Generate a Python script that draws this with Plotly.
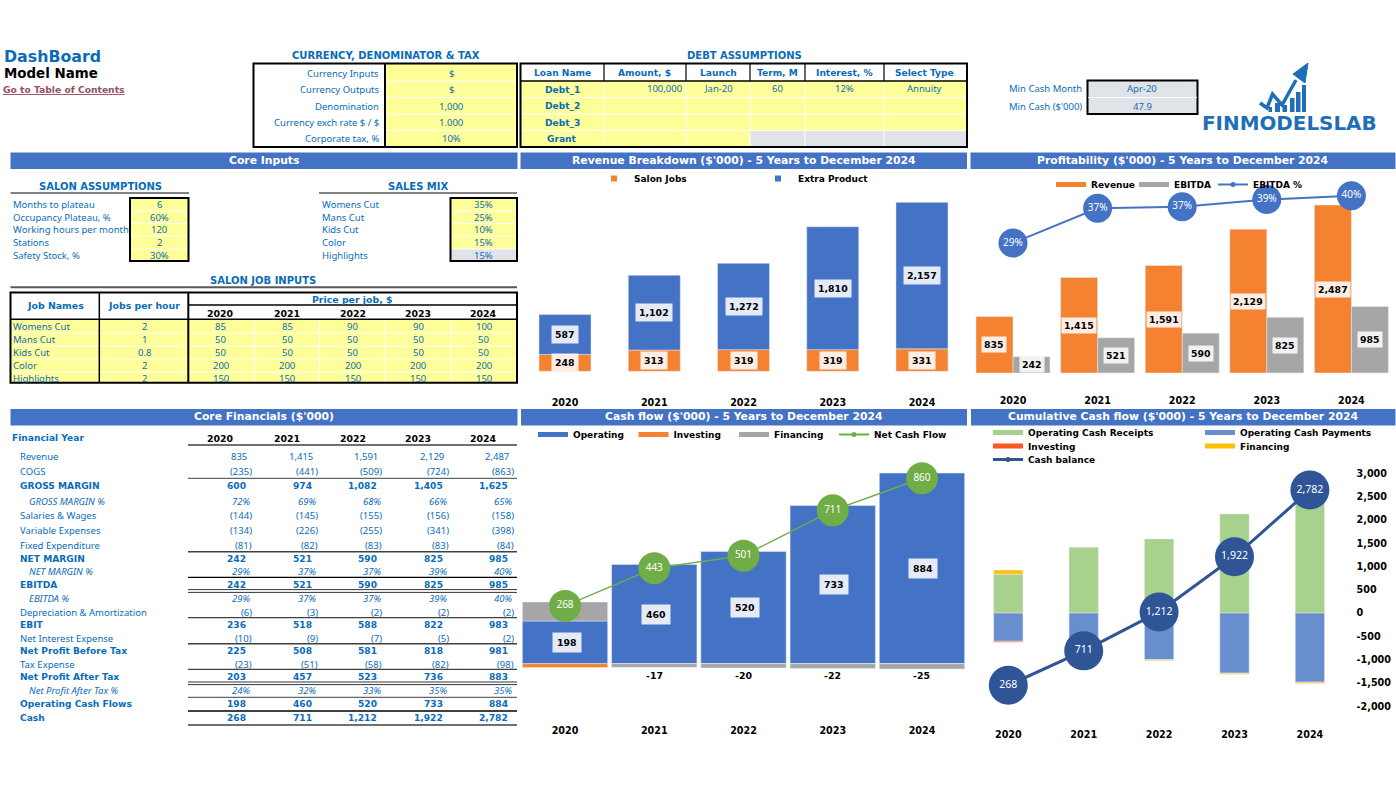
import numpy as np
import plotly.graph_objects as go

# ---------- data ----------
years = ["2020", "2021", "2022", "2023", "2024"]
salon_jobs = [248, 313, 319, 319, 331]
extra_product = [587, 1102, 1272, 1810, 2157]
revenue = [835, 1415, 1591, 2129, 2487]
ebitda = [242, 521, 590, 825, 985]
ebitda_pct = [0.29, 0.368, 0.371, 0.3875, 0.396]
operating = [198, 460, 520, 733, 884]
investing = [-18, 0, 0, 0, 0]
financing = [88, -17, -20, -22, -25]
net_cash = [268, 443, 501, 711, 860]
receipts = [835, 1415, 1591, 2129, 2487]
payments = [-605, -880, -1000, -1292, -1485]
cash_balance = [268, 711, 1212, 1922, 2782]
cum_ticks = [3000, 2500, 2000, 1500, 1000, 500, 0, -500, -1000, -1500, -2000]
cum_tick_text = ["3,000", "2,500", "2,000", "1,500", "1,000", "500", "0", "-500", "-1,000", "-1,500", "-2,000"]

currency_labels = ["Currency Inputs", "Currency Outputs", "Denomination", "Currency exch rate $ / $", "Corporate tax, %"]
currency_values = ["$", "$", "1,000", "1.000", "10%"]
debt_headers = ["Loan Name", "Amount, $", "Launch", "Term, M", "Interest, %", "Select Type"]
debt_rows = ["Debt_1", "Debt_2", "Debt_3", "Grant"]
debt_1_values = ["100,000", "Jan-20", "60", "12%", "Annuity"]
min_cash_labels = ["Min Cash Month", "Min Cash ($'000)"]
min_cash_values = ["Apr-20", "47.9"]
salon_labels = ["Months to plateau", "Occupancy Plateau, %", "Working hours per month", "Stations", "Safety Stock, %"]
salon_values = ["6", "60%", "120", "2", "30%"]
mix_labels = ["Womens Cut", "Mans Cut", "Kids Cut", "Color", "Highlights"]
mix_values = ["35%", "25%", "10%", "15%", "15%"]
job_names = ["Womens Cut", "Mans Cut", "Kids Cut", "Color", "Highlights"]
jobs_per_hour = ["2", "1", "0.8", "2", "2"]
job_prices = [["85", "85", "90", "90", "100"], ["50"] * 5, ["50"] * 5, ["200"] * 5, ["150"] * 5]

# label, kind (n normal, b bold, i italic), values
fin_rows = [
    ("Revenue", "n", ["835", "1,415", "1,591", "2,129", "2,487"]),
    ("COGS", "n", ["(235)", "(441)", "(509)", "(724)", "(863)"]),
    ("GROSS MARGIN", "b", ["600", "974", "1,082", "1,405", "1,625"]),
    ("GROSS MARGIN %", "i", ["72%", "69%", "68%", "66%", "65%"]),
    ("Salaries & Wages", "n", ["(144)", "(145)", "(155)", "(156)", "(158)"]),
    ("Variable Expenses", "n", ["(134)", "(226)", "(255)", "(341)", "(398)"]),
    ("Fixed Expenditure", "n", ["(81)", "(82)", "(83)", "(83)", "(84)"]),
    ("NET MARGIN", "b", ["242", "521", "590", "825", "985"]),
    ("NET MARGIN %", "i", ["29%", "37%", "37%", "39%", "40%"]),
    ("EBITDA", "b", ["242", "521", "590", "825", "985"]),
    ("EBITDA %", "i", ["29%", "37%", "37%", "39%", "40%"]),
    ("Depreciation & Amortization", "n", ["(6)", "(3)", "(2)", "(2)", "(2)"]),
    ("EBIT", "b", ["236", "518", "588", "822", "983"]),
    ("Net Interest Expense", "n", ["(10)", "(9)", "(7)", "(5)", "(2)"]),
    ("Net Profit Before Tax", "b", ["225", "508", "581", "818", "981"]),
    ("Tax Expense", "n", ["(23)", "(51)", "(58)", "(82)", "(98)"]),
    ("Net Profit After Tax", "b", ["203", "457", "523", "736", "883"]),
    ("Net Profit After Tax %", "i", ["24%", "32%", "33%", "35%", "35%"]),
    ("Operating Cash Flows", "b", ["198", "460", "520", "733", "884"]),
    ("Cash", "b", ["268", "711", "1,212", "1,922", "2,782"]),
]

# ---------- style ----------
W, H = 1396, 786
FONT = "DejaVu Sans"
FONT_N = "Noto Sans"
BLUE = "#0A6CB8"
HEAD = "#4472C4"
YEL = "#FFFF99"
GRAY = "#E0E3E7"
ORANGE = "#F58231"
BAR_BLUE = "#4472C4"
BAR_GRAY = "#A6A6A6"
GREEN = "#70AD47"
SZ_B = 9.1
SZ_N = 9.5


def px(x):
    return x / W


def py(y):
    return 1 - y / H


def yrange(zero_px, scale, bottom, top):
    return [-(bottom - zero_px) / scale, (zero_px - top) / scale]


annos, shapes = [], []


def txt(x, y, s, size=None, color=BLUE, bold=False, italic=False, anchor="center"):
    annos.append(dict(
        xref="paper", yref="paper", x=px(x - 1 if anchor == "left" else x), y=py(y), text=s, showarrow=False,
        xanchor=anchor, yanchor="middle", borderpad=0,
        font=dict(family=FONT if bold else FONT_N, size=size or (SZ_B if bold else SZ_N), color=color,
                  weight="bold" if bold else "normal", style="italic" if italic else "normal")))


def rect(x0, y0, x1, y1, fill=None, line=None, lw=0):
    shapes.append(dict(type="rect", xref="paper", yref="paper", x0=px(x0), x1=px(x1), y0=py(y0), y1=py(y1),
                       fillcolor=fill if fill else "rgba(0,0,0,0)", layer="below",
                       line=dict(color=line if line else "rgba(0,0,0,0)", width=lw)))


def seg(x0, y0, x1, y1, color="#000000", lw=1):
    shapes.append(dict(type="line", xref="paper", yref="paper", x0=px(x0), x1=px(x1), y0=py(y0), y1=py(y1),
                       layer="below", line=dict(color=color, width=lw)))


def header(x0, x1, y0, y1, s):
    rect(x0, y0, x1, y1, fill=HEAD)
    txt((x0 + x1) / 2, (y0 + y1) / 2 - 0.7, s, size=10.8, color="white", bold=True)


def label(axis, x, y, s, xshift=0, pad=3):
    annos.append(dict(
        xref="x" + axis, yref="y" + axis, x=x, y=y, text=s, showarrow=False, xshift=xshift,
        bgcolor="rgba(255,255,255,0.86)", borderpad=pad,
        font=dict(family=FONT, size=9.4, color="black", weight="bold")))


fig = go.Figure()


def legend_key(name, color, legend, xaxis, yaxis, kind="line", width=5):
    if kind == "line":
        mode, marker = "lines", None
    elif kind == "linemark":
        mode, marker = "lines+markers", dict(size=5, color=color)
    else:
        mode, marker = "markers", dict(size=6, color=color, symbol="square")
    fig.add_trace(go.Scatter(x=years, y=[None] * 5, name=name, mode=mode, marker=marker,
                             line=dict(color=color, width=width), legend=legend,
                             xaxis=xaxis, yaxis=yaxis, showlegend=True, hoverinfo="skip"))


# ---------- chart 1: revenue breakdown ----------
fig.add_trace(go.Bar(x=years, y=salon_jobs, width=0.583, marker_color=ORANGE, xaxis="x", yaxis="y",
                     showlegend=False, name="Salon Jobs"))
fig.add_trace(go.Bar(x=years, y=extra_product, base=salon_jobs, width=0.583, marker_color=BAR_BLUE, xaxis="x",
                     yaxis="y", showlegend=False, name="Extra Product"))
legend_key("Salon Jobs", ORANGE, "legend", "x", "y", kind="square")
legend_key("Extra Product", BAR_BLUE, "legend", "x", "y", kind="square")
for i in range(5):
    label("", i, salon_jobs[i] / 2, f"{salon_jobs[i]:,}")
    label("", i, salon_jobs[i] + extra_product[i] / 2, f"{extra_product[i]:,}")

# ---------- chart 2: profitability ----------
BW2 = 0.4375
fig.add_trace(go.Bar(x=years, y=revenue, width=BW2, offset=-BW2, marker_color=ORANGE, xaxis="x2", yaxis="y2",
                     showlegend=False, name="Revenue"))
fig.add_trace(go.Bar(x=years, y=ebitda, width=BW2, offset=0, marker_color=BAR_GRAY, xaxis="x2", yaxis="y2",
                     showlegend=False, name="EBITDA"))
fig.add_trace(go.Scatter(x=years, y=ebitda_pct, mode="lines+markers+text", xaxis="x2", yaxis="y5",
                         text=[f"{v:.0%}" for v in ebitda_pct], textposition="middle center",
                         textfont=dict(family=FONT_N, size=10, color="white"),
                         marker=dict(size=29, color=BAR_BLUE), line=dict(color=BAR_BLUE, width=2),
                         showlegend=False, name="EBITDA %", cliponaxis=False))
legend_key("Revenue", ORANGE, "legend2", "x2", "y2")
legend_key("EBITDA", BAR_GRAY, "legend2", "x2", "y2")
legend_key("EBITDA %", BAR_BLUE, "legend6", "x2", "y2", kind="linemark", width=2)
for i in range(5):
    label("2", i - BW2 / 2, revenue[i] / 2, f"{revenue[i]:,}", pad=2)
    label("2", i + BW2 / 2, ebitda[i] / 2, f"{ebitda[i]:,}", pad=2)

# ---------- chart 3: cash flow ----------
BW3 = 0.956
op, inv, fin = map(np.array, (operating, investing, financing))
fin_base = np.where(fin > 0, op, inv)
fin_text = [f"{v}" if v > 0 else "" for v in financing]
fig.add_trace(go.Bar(x=years, y=operating, width=BW3, marker_color=BAR_BLUE, xaxis="x3", yaxis="y3",
                     showlegend=False, name="Operating"))
fig.add_trace(go.Bar(x=years, y=investing, width=BW3, marker_color=ORANGE, xaxis="x3", yaxis="y3",
                     showlegend=False, name="Investing"))
fig.add_trace(go.Bar(x=years, y=financing, base=fin_base.tolist(), width=BW3, marker_color=BAR_GRAY, xaxis="x3",
                     yaxis="y3", showlegend=False, name="Financing", text=fin_text, textposition="inside",
                     insidetextanchor="middle", textangle=0, constraintext="none",
                     textfont=dict(family=FONT, size=9.4, color="black", weight="bold")))
fig.add_trace(go.Scatter(x=years, y=net_cash, mode="lines+markers+text", xaxis="x3", yaxis="y3",
                         text=[str(v) for v in net_cash], textposition="middle center",
                         textfont=dict(family=FONT_N, size=10, color="white"),
                         marker=dict(size=32, color=GREEN), line=dict(color=GREEN, width=1.5),
                         showlegend=False, name="Net Cash Flow", cliponaxis=False))
legend_key("Operating", BAR_BLUE, "legend3", "x3", "y3")
legend_key("Investing", ORANGE, "legend3", "x3", "y3")
legend_key("Financing", BAR_GRAY, "legend3", "x3", "y3")
legend_key("Net Cash Flow", GREEN, "legend7", "x3", "y3", kind="linemark", width=2)
for i in range(5):
    label("3", i, operating[i] / 2, f"{operating[i]:,}", xshift=1.5, pad=4)
    if financing[i] < 0:
        annos.append(dict(xref="x3", yref="y3", x=i, y=-55, text=str(financing[i]), showarrow=False,
                          font=dict(family=FONT, size=9.4, color="black", weight="bold")))

# ---------- chart 4: cumulative cash flow ----------
BW4 = 0.389
rec, pay = np.array(receipts), np.array(payments)
fin4_base = np.where(fin > 0, rec, pay + inv)
fig.add_trace(go.Bar(x=years, y=receipts, width=BW4, marker_color="#A9D18E", xaxis="x4", yaxis="y4",
                     showlegend=False, name="Operating Cash Receipts"))
fig.add_trace(go.Bar(x=years, y=payments, width=BW4, marker_color="#698ED0", xaxis="x4", yaxis="y4",
                     showlegend=False, name="Operating Cash Payments"))
fig.add_trace(go.Bar(x=years, y=investing, base=payments, width=BW4, marker_color="#FF5522", xaxis="x4", yaxis="y4",
                     showlegend=False, name="Investing"))
fig.add_trace(go.Bar(x=years, y=financing, base=fin4_base.tolist(), width=BW4, marker_color="#FFC000", xaxis="x4",
                     yaxis="y4", showlegend=False, name="Financing"))
fig.add_trace(go.Scatter(x=years, y=cash_balance, mode="lines+markers+text", xaxis="x4", yaxis="y6",
                         text=[f"{v:,}" for v in cash_balance], textposition="middle center",
                         textfont=dict(family=FONT_N, size=10.5, color="white"),
                         marker=dict(size=39, color="#2F5597"), line=dict(color="#2F5597", width=3),
                         showlegend=False, name="Cash balance", cliponaxis=False))
legend_key("Operating Cash Receipts", "#A9D18E", "legend4", "x4", "y4")
legend_key("Investing", "#FF5522", "legend8", "x4", "y4")
legend_key("Cash balance", "#2F5597", "legend9", "x4", "y4", kind="linemark", width=3)
legend_key("Operating Cash Payments", "#698ED0", "legend5", "x4", "y4")
legend_key("Financing", "#FFC000", "legend10", "x4", "y4")

# ---------- top-left titles ----------
txt(4, 56.7, "DashBoard", size=15.8, bold=True, anchor="left")
txt(4, 73, "Model Name", size=13.4, color="black", bold=True, anchor="left")
txt(3, 90, "<u>Go to Table of Contents</u>", size=9.2, color="#94505C", bold=True, anchor="left")

# ---------- currency table ----------
txt(386, 56, "CURRENCY, DENOMINATOR & TAX", size=10, bold=True)
rect(385, 63.5, 516, 147, fill=YEL)
cur_y = [73, 89.7, 106, 122.5, 139]
for yy in [81, 97.5, 114, 130.5]:
    seg(385, yy, 516, yy, "white", 1)
rect(253.5, 63.5, 517, 147, line="black", lw=2)
seg(385, 63.5, 385, 147, "black", 2)
for yy, l, v in zip(cur_y, currency_labels, currency_values):
    txt(380, yy, l, anchor="right")
    txt(451, yy, v)

# ---------- debt table ----------
txt(744.5, 56, "DEBT ASSUMPTIONS", size=10, bold=True)
rect(521, 81, 966, 147, fill=YEL)
rect(750, 131, 966, 147, fill=GRAY)
debt_x = [521, 604, 686, 750, 805, 884, 967]
debt_cx = [562, 644, 718, 777, 844, 925]
for xx in debt_x[1:-1]:
    seg(xx, 63.5, xx, 81, "black", 1.2)
    seg(xx, 81, xx, 147, "white", 1)
for yy in [97.5, 114, 130.5]:
    seg(521, yy, 966, yy, "white", 1)
seg(521, 81, 967, 81, "black", 1.5)
rect(520.5, 63.5, 967, 147, line="black", lw=2)
for c, h in zip(debt_cx, debt_headers):
    txt(c, 72.5, h, bold=True)
for yy, r in zip(cur_y[1:], debt_rows):
    txt(562, yy, r, bold=True)
txt(683, 89, debt_1_values[0], anchor="right")
for c, v in zip(debt_cx[2:], debt_1_values[1:]):
    txt(c, 89, v)

# ---------- min cash ----------
rect(1087.5, 80.5, 1197.5, 114, fill=GRAY, line="black", lw=2)
seg(1088, 97.5, 1197, 97.5, "white", 1)
for yy, l, v in zip([89, 106], min_cash_labels, min_cash_values):
    txt(1083, yy, l, anchor="right")
    txt(1142, yy, v)

# ---------- logo ----------
LOGO = "#1F6FB8"
for x0, x1, top in [(1268.5, 1272, 107), (1275, 1280, 103), (1282.5, 1287, 105), (1290, 1294.5, 98),
                    (1296, 1300.5, 92), (1302, 1306, 85)]:
    rect(x0, top, x1, 112, fill=LOGO)
shapes.append(dict(type="path", xref="paper", yref="paper", layer="below",
                   path="M {} {} L {} {} L {} {} L {} {} L {} {}".format(
                       px(1260), py(103), px(1267), py(108), px(1272.5), py(94), px(1282), py(105), px(1296), py(80)),
                   line=dict(color=LOGO, width=3.5)))
shapes.append(dict(type="path", xref="paper", yref="paper", layer="below", fillcolor=LOGO,
                   path="M {} {} L {} {} L {} {} Z".format(px(1308), py(63), px(1293), py(74), px(1305), py(83)),
                   line=dict(color=LOGO, width=1)))
txt(1289, 123.5, "FINMODELSLAB", size=19.9, color=LOGO, bold=True)

# ---------- section headers ----------
header(10.5, 517.5, 152.5, 169, "Core Inputs")
header(520.5, 967, 152.5, 169, "Revenue Breakdown ($'000) - 5 Years to December 2024")
header(970.5, 1395.5, 152.5, 169, "Profitability ($'000) - 5 Years to December 2024")
header(10.5, 517.5, 409, 425.5, "Core Financials ($'000)")
header(521, 967, 409, 425.5, "Cash flow ($'000) - 5 Years to December 2024")
header(971, 1395.5, 409, 425.5, "Cumulative Cash flow ($'000) - 5 Years to December 2024")

# ---------- salon assumptions / sales mix ----------
ass_y = [205, 217, 229.7, 242.3, 255.3]
txt(100, 186.7, "SALON ASSUMPTIONS", size=10, bold=True)
seg(10.5, 193, 189, 193, "#595959", 1.5)
rect(130, 198, 188.5, 261, fill=YEL)
txt(418.3, 186.7, "SALES MIX", size=10, bold=True)
seg(319, 193, 517, 193, "#595959", 1.5)
rect(450.5, 198, 517, 261, fill=YEL)
rect(450.5, 249, 517, 261, fill=GRAY)
for yy in [211, 223.5, 236, 249]:
    seg(130, yy, 188.5, yy, "white", 1)
    seg(450.5, yy, 517, yy, "white", 1)
rect(130, 198, 188.5, 261, line="black", lw=2)
rect(450.5, 198, 517, 261, line="black", lw=2)
for yy, a, b, c, d in zip(ass_y, salon_labels, salon_values, mix_labels, mix_values):
    txt(13, yy, a, anchor="left")
    txt(159.3, yy, b)
    txt(322, yy, c, anchor="left")
    txt(484, yy, d)

# ---------- salon job inputs ----------
col_x = [221, 287, 352.7, 418, 484]
txt(263.3, 280.7, "SALON JOB INPUTS", size=10, bold=True)
seg(10.5, 287.3, 517, 287.3, "#595959", 2)
rect(11, 319.3, 517, 382.5, fill=YEL)
job_y = [326.7, 339.5, 352.7, 365.7, 378]
for yy in [333, 346, 359, 372]:
    seg(11, yy, 517, yy, "white", 1)
for xx in [254, 319.5, 385, 451]:
    seg(xx, 319.3, xx, 382.5, "white", 1)
rect(10.5, 292.5, 517, 382.7, line="black", lw=2)
seg(99.3, 292.5, 99.3, 382.7, "black", 1.5)
seg(188.3, 292.5, 188.3, 382.7, "black", 2)
seg(188.3, 305, 517, 305, "black", 1.5)
seg(10.5, 319.3, 517, 319.3, "black", 1.5)
txt(55, 305.7, "Job Names", bold=True, size=9.4)
txt(144, 305.7, "Jobs per hour", bold=True, size=9.4)
txt(352.7, 299.3, "Price per job, $", bold=True, size=9.4)
for c, yr in zip(col_x, years):
    txt(c, 313, yr, color="black", bold=True, size=9.4)
for yy, n, j, prices in zip(job_y, job_names, jobs_per_hour, job_prices):
    txt(13, yy, n, anchor="left")
    txt(144, yy, j)
    for c, v in zip(col_x, prices):
        txt(c, yy, v)

# ---------- core financials ----------
txt(11.7, 438.3, "Financial Year", bold=True, anchor="left")
for c, yr in zip(col_x, years):
    txt(c, 438.3, yr, color="black", bold=True, size=9.4)
fin_y = [456.7, 471.7, 486, 501, 515.7, 530.3, 545, 558.7, 571.7, 584.7, 598.3, 612.3, 625, 638, 651, 664, 676.7,
         690.3, 704, 718]
right_edges = [248, 314, 379, 445, 510]
for yy, (name, kind, vals) in zip(fin_y, fin_rows):
    txt(29 if kind == "i" else 20, yy, name, bold=kind == "b", italic=kind == "i", anchor="left")
    for r, v in zip(right_edges, vals):
        if kind == "b":
            offs = -1
        elif v.startswith("("):
            offs = 4.5
        elif kind == "i":
            offs = 2.5
        else:
            offs = 0
        txt(r + offs, yy, v, bold=kind == "b", italic=kind == "i", anchor="right")
for yy, c, lw in [(445, "#404040", 1.5), (478.3, "#404040", 1), (551.7, "#404040", 1.5), (577.3, "#000000", 1.2),
                  (589.6, "#000000", 0.8), (592.4, "#000000", 0.8), (617.7, "#404040", 1.2), (643.7, "#404040", 1.5),
                  (669.3, "#404040", 1.2), (682, "#000000", 0.8), (684.6, "#000000", 0.8), (697.3, "#404040", 1),
                  (711, "#404040", 2), (725, "#404040", 1.5)]:
    seg(188, yy, 517, yy, c, lw)

# ---------- layout ----------
hidden_y = dict(visible=False, showgrid=False, zeroline=False, fixedrange=True)
xbase = dict(type="category", categoryorder="array", categoryarray=years, range=[-0.5, 4.5], showgrid=False,
             zeroline=False, showline=False, ticks="", tickangle=0,
             tickfont=dict(family=FONT, size=9.6, color="black", weight="bold"))


def legend_at(x, y, entrywidth=None):
    d = dict(x=px(x), y=py(y), xanchor="left", yanchor="middle", orientation="h",
             bgcolor="rgba(0,0,0,0)", font=dict(family=FONT, size=9, color="black", weight="bold"),
             itemclick=False, itemdoubleclick=False, itemwidth=30, tracegroupgap=0)
    if entrywidth:
        d.update(entrywidth=entrywidth, entrywidthmode="pixels")
    return d


fig.update_layout(
    width=W, height=H, autosize=False, margin=dict(l=0, r=0, t=0, b=0, pad=0), showlegend=True,
    paper_bgcolor="white", plot_bgcolor="rgba(0,0,0,0)", barmode="overlay",
    font=dict(family=FONT, size=10, color="black"),
    xaxis=dict(xbase, domain=[px(520.4), px(966.6)], anchor="y"),
    yaxis=dict(hidden_y, domain=[py(395), py(172)], range=yrange(371.3, 0.0679, 395, 172), anchor="x"),
    xaxis2=dict(xbase, domain=[px(970.7), px(1393.7)], anchor="y2"),
    yaxis2=dict(hidden_y, domain=[py(393), py(172)], range=yrange(373, 0.06755, 393, 172), anchor="x2"),
    yaxis5=dict(hidden_y, overlaying="y2", anchor="x2", range=yrange(243 + 0.29 * 446, 446, 393, 172)),
    xaxis3=dict(xbase, domain=[px(520.4), px(966.6)], anchor="y3"),
    yaxis3=dict(hidden_y, domain=[py(723), py(445)], range=yrange(663.7, 0.2157, 723, 445), anchor="x3"),
    xaxis4=dict(xbase, domain=[px(970.6), px(1347.6)], anchor="y4"),
    yaxis4=dict(domain=[py(727), py(456)], range=yrange(613.1, 0.0466, 727, 456), anchor="x4", side="right",
                showgrid=False, zeroline=False, showline=False, ticks="", tickmode="array", tickvals=cum_ticks,
                ticktext=cum_tick_text, ticklabelstandoff=8,
                tickfont=dict(family=FONT, size=9.6, color="black", weight="bold")),
    yaxis6=dict(hidden_y, overlaying="y4", anchor="x4", range=yrange(706.1, 0.0777, 727, 456)),
    legend=legend_at(594, 178.5, entrywidth=119),
    legend2=legend_at(1051, 184.5, entrywidth=38),
    legend6=legend_at(1213, 184.5),
    legend3=legend_at(533, 434.5, entrywidth=55.5),
    legend7=legend_at(834, 434.5),
    legend4=legend_at(988, 432.5),
    legend8=legend_at(988, 446),
    legend9=legend_at(988, 459.5),
    legend5=legend_at(1200, 432.5),
    legend10=legend_at(1200, 446),
    annotations=annos, shapes=shapes,
)

fig.write_html("out.html", config={"displayModeBar": False},
               post_script="document.body.style.margin='0';document.body.style.overflow='hidden';")
